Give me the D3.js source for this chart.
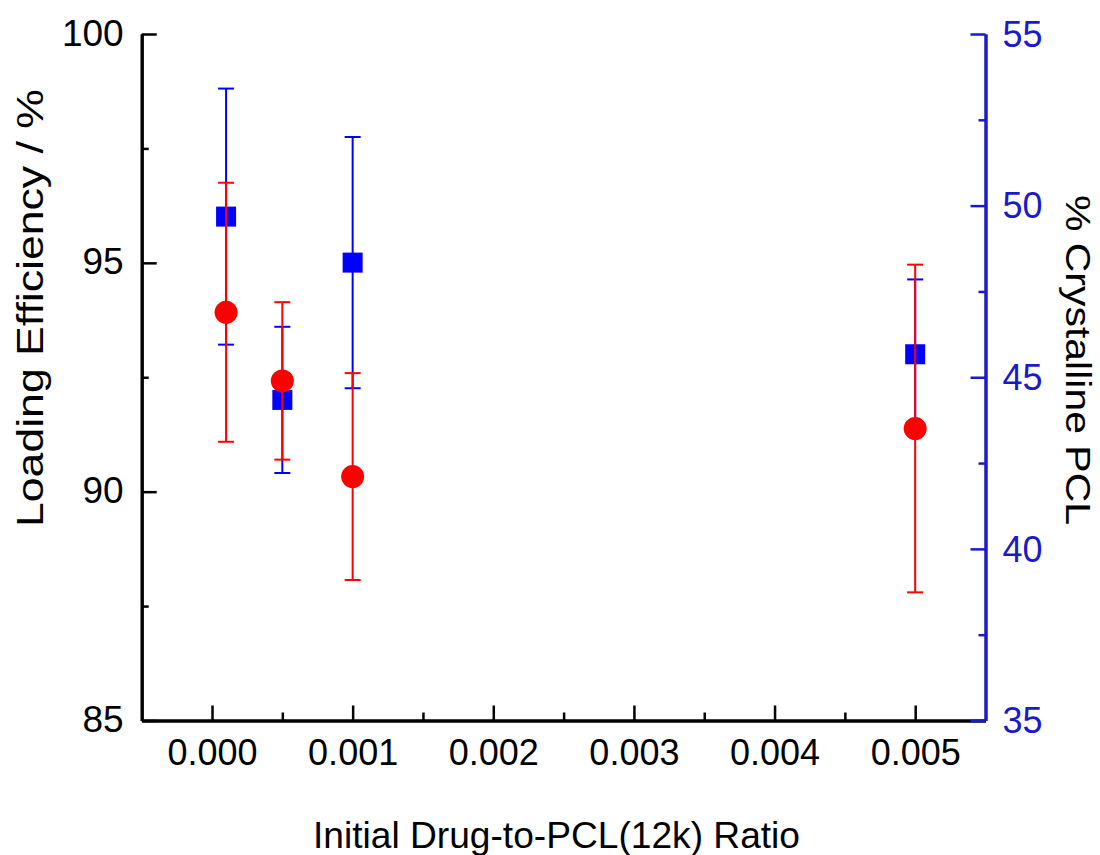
<!DOCTYPE html>
<html>
<head>
<meta charset="utf-8">
<script src="https://cdn.jsdelivr.net/npm/d3@7"></script>
<style>
    body { margin: 0; background: #fff; }
    svg { display: block; }
    .axis text { font-family: "Liberation Sans", Arial, sans-serif; }
    .graph-titles { font-family: "Liberation Sans", Arial, sans-serif; }
</style>
</head>
<body>
<div id="chart-area"></div>
<script>
// values
var ratios = [0.0001, 0.0005, 0.001, 0.005];
var loadingEff = [93.92, 92.42, 90.33, 91.38];
var loadingErr = [2.83, 1.72, 2.26, 3.58];
var crystalline = [49.68, 44.34, 48.34, 45.67];
var crystallineErr = [3.73, 2.13, 3.66, 2.18];

var xTicks = [0, 0.001, 0.002, 0.003, 0.004, 0.005];
var xMinorTicks = [0.0005, 0.0015, 0.0025, 0.0035, 0.0045];
var leftTicks = [85, 90, 95, 100];
var leftMinorTicks = [87.5, 92.5, 97.5];
var rightTicks = [35, 40, 45, 50, 55];
var rightMinorTicks = [37.5, 42.5, 47.5, 52.5];

var blue = "#0000ff";
var axisBlue = "#1a1acc";
var red = "#ff0000";

DualChart = function(_parentElement) {
    this.parentElement = _parentElement;
    this.initVis();
}

DualChart.prototype.initVis = function() {
    var vis = this;

    vis.margin = {top: 34, right: 114.5, bottom: 134.5, left: 141.7};
    vis.width = 1100 - vis.margin.left - vis.margin.right;
    vis.height = 855 - vis.margin.top - vis.margin.bottom;

    vis.svg = d3.select("#" + vis.parentElement).append("svg")
        .attr("width", 1100)
        .attr("height", 855);
    vis.g = vis.svg.append("g")
        .attr("transform", "translate(" + vis.margin.left + "," + vis.margin.top + ")");

    vis.x = d3.scaleLinear().domain([-0.0005, 0.0055]).range([0, vis.width]);
    vis.yLeft = d3.scaleLinear().domain([85, 100]).range([vis.height, 0]);
    vis.yRight = d3.scaleLinear().domain([35, 55]).range([vis.height, 0]);

    vis.data = ratios.map(function(r, i) {
        return {x: r, le: loadingEff[i], leErr: loadingErr[i], cr: crystalline[i], crErr: crystallineErr[i]};
    });

    // left axis
    vis.g.append("g")
        .attr("class", "axis")
        .call(d3.axisLeft(vis.yLeft).tickValues(leftMinorTicks).tickSizeInner(-7).tickSizeOuter(0).tickFormat(""));
    vis.g.append("g")
        .attr("class", "axis y-left")
        .call(d3.axisLeft(vis.yLeft).tickValues(leftTicks).tickSizeInner(-15).tickSizeOuter(0).tickPadding(18));

    // bottom axis
    vis.g.append("g")
        .attr("class", "axis")
        .attr("transform", "translate(0," + vis.height + ")")
        .call(d3.axisBottom(vis.x).tickValues(xMinorTicks).tickSizeInner(-8).tickSizeOuter(0).tickFormat(""));
    vis.g.append("g")
        .attr("class", "axis x-axis")
        .attr("transform", "translate(0," + vis.height + ")")
        .call(d3.axisBottom(vis.x).tickValues(xTicks).tickSizeInner(-15).tickSizeOuter(0)
            .tickPadding(19).tickFormat(d3.format(".3f")));

    // right axis
    vis.g.append("g")
        .attr("class", "axis y-right")
        .attr("transform", "translate(" + vis.width + ",0)")
        .call(d3.axisRight(vis.yRight).tickValues(rightMinorTicks).tickSizeInner(-7).tickSizeOuter(0).tickFormat(""));
    vis.g.append("g")
        .attr("class", "axis y-right")
        .attr("transform", "translate(" + vis.width + ",0)")
        .call(d3.axisRight(vis.yRight).tickValues(rightTicks).tickSizeInner(-15).tickSizeOuter(0).tickPadding(17));

    vis.svg.selectAll(".axis path").attr("stroke-width", 3);
    vis.svg.selectAll(".axis line").attr("stroke-width", 2.5);
    vis.svg.selectAll(".axis text").attr("font-size", 37).attr("fill", "#000");
    vis.svg.selectAll(".y-left text").attr("dy", "0.30em");
    vis.svg.selectAll(".x-axis text").attr("font-size", 36).attr("dy", "0.72em");
    vis.svg.selectAll(".y-right path, .y-right line").attr("stroke", axisBlue);
    vis.svg.selectAll(".y-right text").attr("fill", axisBlue).attr("font-size", 36).attr("dy", "0.34em");

    // crystalline series (blue, drawn first)
    vis.drawSeries("cr", "crErr", vis.yRight, blue);
    vis.g.selectAll(".sq")
        .data(vis.data)
        .enter().append("rect")
        .attr("class", "sq")
        .attr("x", function(d) { return vis.x(d.x) - 10; })
        .attr("y", function(d) { return vis.yRight(d.cr) - 10; })
        .attr("width", 20)
        .attr("height", 20)
        .attr("fill", blue);

    // loading efficiency series (red)
    vis.drawSeries("le", "leErr", vis.yLeft, red);
    vis.g.selectAll(".dot")
        .data(vis.data)
        .enter().append("circle")
        .attr("class", "dot")
        .attr("cx", function(d) { return vis.x(d.x); })
        .attr("cy", function(d) { return vis.yLeft(d.le); })
        .attr("r", 11.5)
        .attr("fill", red);

    // titles
    vis.svg.append("text")
        .attr("class", "graph-titles")
        .attr("x", 556.5)
        .attr("y", 848)
        .attr("text-anchor", "middle")
        .attr("font-size", 36)
        .attr("textLength", 487)
        .attr("lengthAdjust", "spacingAndGlyphs")
        .text("Initial Drug-to-PCL(12k) Ratio");

    vis.svg.append("text")
        .attr("class", "graph-titles")
        .attr("transform", "translate(43,308) rotate(-90)")
        .attr("text-anchor", "middle")
        .attr("font-size", 37)
        .attr("textLength", 438)
        .attr("lengthAdjust", "spacingAndGlyphs")
        .text("Loading Efficiency / %");

    vis.svg.append("text")
        .attr("class", "graph-titles")
        .attr("transform", "translate(1066,360) rotate(90)")
        .attr("text-anchor", "middle")
        .attr("font-size", 35)
        .attr("textLength", 330)
        .attr("lengthAdjust", "spacingAndGlyphs")
        .text("% Crystalline PCL");
}

DualChart.prototype.drawSeries = function(key, errKey, yScale, color) {
    var vis = this;
    var bars = vis.g.append("g")
        .attr("stroke", color)
        .attr("stroke-width", 2)
        .selectAll("g")
        .data(vis.data)
        .enter().append("g");

    bars.append("line")
        .attr("x1", function(d) { return vis.x(d.x); })
        .attr("x2", function(d) { return vis.x(d.x); })
        .attr("y1", function(d) { return yScale(d[key] + d[errKey]); })
        .attr("y2", function(d) { return yScale(d[key] - d[errKey]); });

    [1, -1].forEach(function(s) {
        bars.append("line")
            .attr("x1", function(d) { return vis.x(d.x) - 8; })
            .attr("x2", function(d) { return vis.x(d.x) + 8; })
            .attr("y1", function(d) { return yScale(d[key] + s * d[errKey]); })
            .attr("y2", function(d) { return yScale(d[key] + s * d[errKey]); });
    });
}

new DualChart("chart-area");
</script>
</body>
</html>
